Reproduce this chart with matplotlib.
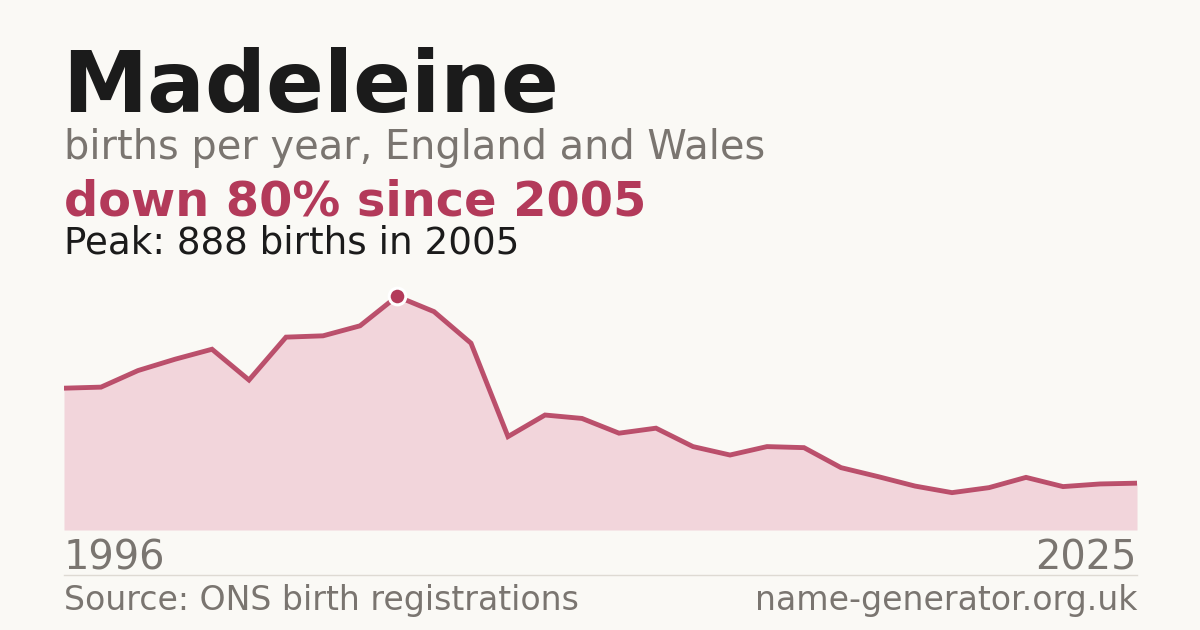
import matplotlib
matplotlib.use("Agg")
import matplotlib.pyplot as plt

years = list(range(1996, 2026))
births = [539, 543, 606, 649, 687, 570, 733, 738, 776, 888,
          830, 710, 355, 437, 424, 368, 387, 317, 285, 317,
          313, 237, 203, 167, 142, 161, 200, 165, 175, 178]

name = "Madeleine"
subtitle = "births per year, England and Wales"
headline = "down 80% since 2005"
peak_text = "Peak: 888 births in 2005"
source = "Source: ONS birth registrations"
site = "name-generator.org.uk"

BG = "#faf9f5"
ACCENT = "#b33a5a"
FILL = "#f2d5db"
GREY = "#7a7570"
DARK = "#1b1b1b"

plt.rcParams['font.family'] = ['DejaVu Sans']

W, H = 1200, 630
fig = plt.figure(figsize=(W / 100, H / 100), dpi=100, facecolor=BG)

def fx(px):
    return px / W

def fy(py):
    return 1 - py / H

# axes: x 64..1137, bottom 530, top 280
ax = fig.add_axes([fx(64), fy(530), fx(1137 - 64), (530 - 280) / H])
ax.set_facecolor(BG)
ymax = max(births) * 1.07
ax.set_xlim(years[0], years[-1])
ax.set_ylim(0, ymax)
ax.fill_between(years, births, 0, color=FILL, lw=0, zorder=1)
ax.plot(years, births, color=ACCENT, lw=3.5, alpha=0.88, solid_joinstyle='miter', zorder=2)
pk = births.index(max(births))
ax.plot([years[pk]], [births[pk]], 'o', ms=12, color=ACCENT, mec='white', mew=2.2, zorder=3)
ax.axis('off')

fig.text(fx(62), fy(112), name, fontsize=61.6, fontweight='bold', color=DARK, va='baseline', ha='left')
fig.text(fx(64), fy(159), subtitle, fontsize=28.7, color=GREY, va='baseline', ha='left')
fig.text(fx(64), fy(215), headline, fontsize=34.5, fontweight='bold', color=ACCENT, va='baseline', ha='left')
fig.text(fx(64), fy(253), peak_text, fontsize=26.8, color=DARK, va='baseline', ha='left')

fig.text(fx(64), fy(569), str(years[0]), fontsize=28.7, color=GREY, va='baseline', ha='left')
fig.text(fx(1137), fy(569), str(years[-1]), fontsize=28.7, color=GREY, va='baseline', ha='right')

fig.add_artist(plt.Line2D([fx(64), fx(1137)], [fy(574.5), fy(574.5)], color="#dedad3", lw=1))

fig.text(fx(64), fy(610), source, fontsize=23.9, color=GREY, va='baseline', ha='left')
fig.text(fx(1137), fy(610), site, fontsize=23.9, color=GREY, va='baseline', ha='right')

fig.savefig("out.png", dpi=100, facecolor=BG)
